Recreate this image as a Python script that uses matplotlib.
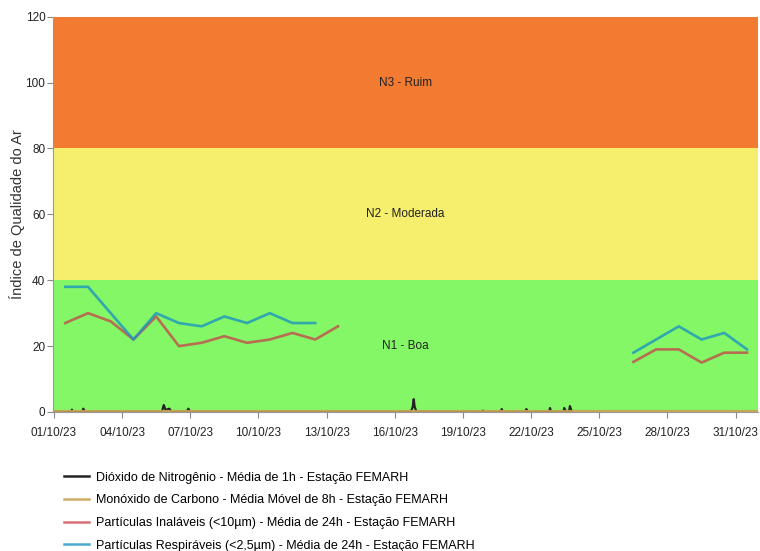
import matplotlib
matplotlib.use("Agg")
import matplotlib.pyplot as plt
import matplotlib.dates as mdates
import pandas as pd

plt.rcParams['font.family'] = ['Liberation Sans', 'DejaVu Sans']

# ---- data ----
pm_days10 = ["2023-10-%02d 12:00" % d for d in range(1, 14)]
pm10_vals = [27, 30, 27.5, 22, 29, 20, 21, 23, 21, 22, 24, 22, 26]
pm_days25 = ["2023-10-%02d 12:00" % d for d in range(1, 13)]
pm25_vals = [38, 38, 30, 22, 30, 27, 26, 29, 27, 30, 27, 27]

pm_late_days = ["2023-10-26 12:00", "2023-10-27 12:00", "2023-10-28 12:00",
                "2023-10-29 12:00", "2023-10-30 12:00", "2023-10-31 12:00"]
pm10_late = [15.2, 19, 19, 15, 18, 18]
pm25_late = [18, 22, 26, 22, 24, 19]

no2_times = ["2023-10-01 00:00", "2023-10-01 18:00", "2023-10-01 19:00", "2023-10-01 20:00",
             "2023-10-02 06:00", "2023-10-02 07:00", "2023-10-02 09:00",
             "2023-10-05 18:00", "2023-10-05 20:00", "2023-10-05 22:00",
             "2023-10-06 02:00", "2023-10-06 04:00",
             "2023-10-06 20:00", "2023-10-06 22:00", "2023-10-07 00:00",
             "2023-10-16 17:00", "2023-10-16 19:00", "2023-10-16 20:00", "2023-10-16 21:00", "2023-10-16 23:00",
             "2023-10-19 19:00", "2023-10-19 21:00", "2023-10-19 23:00",
             "2023-10-20 16:00", "2023-10-20 17:00", "2023-10-20 18:00",
             "2023-10-21 18:00", "2023-10-21 19:00", "2023-10-21 20:00",
             "2023-10-22 19:00", "2023-10-22 20:00", "2023-10-22 21:00",
             "2023-10-23 10:00", "2023-10-23 11:00", "2023-10-23 13:00",
             "2023-10-23 16:00", "2023-10-23 17:00", "2023-10-23 19:00"]
no2_vals = [0, 0, 0.7, 0,
            0, 1.0, 0,
            0, 2.1, 0.6,
            1.0, 0,
            0, 1.0, 0,
            0, 1.6, 3.9, 1.6, 0,
            0, 0.4, 0,
            0, 0.9, 0,
            0, 0.9, 0,
            0, 1.2, 0,
            0, 1.2, 0,
            0, 1.8, 0]

co_times = ["2023-10-01 00:00", "2023-10-08 00:00", "2023-10-15 00:00",
            "2023-10-22 00:00", "2023-10-29 00:00", "2023-10-31 23:00"]
co_vals = [0.3, 0.3, 0.3, 0.3, 0.3, 0.3]

bands = [(0, 40, "#84F766", "N1 - Boa"),
         (40, 80, "#F6EF6D", "N2 - Moderada"),
         (80, 120, "#F27A31", "N3 - Ruim")]

yticks = [0, 20, 40, 60, 80, 100, 120]
xtick_days = ["2023-10-01", "2023-10-04", "2023-10-07", "2023-10-10", "2023-10-13",
              "2023-10-16", "2023-10-19", "2023-10-22", "2023-10-25", "2023-10-28", "2023-10-31"]

labels = ["Dióxido de Nitrogênio - Média de 1h - Estação FEMARH",
          "Monóxido de Carbono - Média Móvel de 8h - Estação FEMARH",
          "Partículas Inaláveis (<10µm) - Média de 24h - Estação FEMARH",
          "Partículas Respiráveis (<2,5µm) - Média de 24h - Estação FEMARH"]
colors = ["#222222", "#C9A254", "#C8404A", "#1C94C0"]
alphas = [1.0, 0.9, 0.75, 0.8]

# ---- figure ----
fig = plt.figure(figsize=(7.6, 5.51), dpi=100)
ax = fig.add_axes([0.0697, 0.2523, 0.9273, 0.7174])

for lo, hi, c, lab in bands:
    ax.axhspan(lo, hi, color=c, zorder=0, lw=0)
    ax.text(0.5, (lo + hi) / 2, lab, transform=ax.get_yaxis_transform(),
            ha="center", va="center", fontsize=8.5, color="#222222", zorder=1)

td = lambda l: pd.to_datetime(l)

ax.plot(td(no2_times), no2_vals, color=colors[0], lw=1.6, alpha=alphas[0], zorder=3)
ax.plot(td(co_times), co_vals, color=colors[1], lw=1.6, alpha=alphas[1], zorder=4)
ax.plot(td(pm_days10), pm10_vals, color=colors[2], lw=1.9, alpha=alphas[2], zorder=5)
ax.plot(td(pm_late_days), pm10_late, color=colors[2], lw=1.9, alpha=alphas[2], zorder=5)
ax.plot(td(pm_days25), pm25_vals, color=colors[3], lw=1.9, alpha=alphas[3], zorder=6)
ax.plot(td(pm_late_days), pm25_late, color=colors[3], lw=1.9, alpha=alphas[3], zorder=6)

ax.set_ylim(0, 120)
ax.set_xlim(pd.Timestamp("2023-09-30 23:00"), pd.Timestamp("2023-10-31 23:20"))
ax.set_yticks(yticks)
ax.set_xticks(td(xtick_days))
ax.xaxis.set_major_formatter(mdates.DateFormatter("%d/%m/%y"))
ax.tick_params(axis="both", labelsize=8.5, labelcolor="#222222", color="#888888",
               length=4, width=0.8)
ax.tick_params(axis="y", pad=1.5)
ax.tick_params(axis="x", pad=7)
ax.set_ylabel("Índice de Qualidade do Ar", fontsize=10.5, color="#333333", labelpad=0)

for s in ["top", "right"]:
    ax.spines[s].set_visible(False)
ax.spines["left"].set_color("#999999")
ax.spines["bottom"].set_color("#999999")

# legend
handles = [plt.Line2D([], [], color=c, lw=1.8, alpha=a) for c, a in zip(colors, alphas)]
fig.legend(handles, labels, loc="upper left", bbox_to_anchor=(0.078, 0.153),
           frameon=False, fontsize=9, handlelength=2.0, handletextpad=0.55,
           labelspacing=0.85, borderaxespad=0)

fig.savefig("out.png", dpi=100)
